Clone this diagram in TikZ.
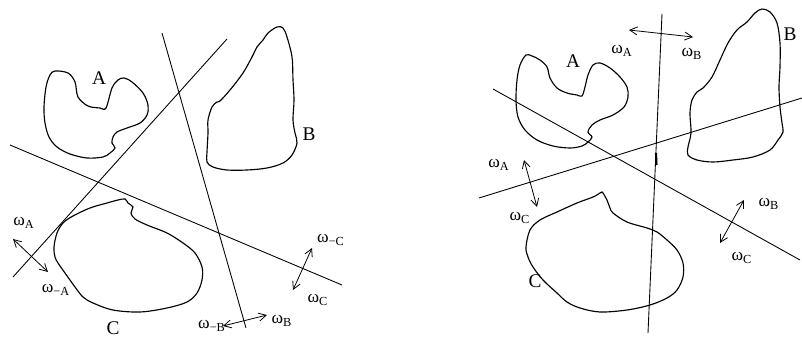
\documentclass[tikz,border=0pt]{standalone}
\usepackage{fontspec}
\setmainfont{Liberation Serif}
\usetikzlibrary{arrows.meta}
\newcommand{\om}[1]{ω\textsubscript{#1}}

\begin{document}
\begin{tikzpicture}[x=0.02cm,y=-0.02cm,
    region/.style={line width=0.65pt,smooth cycle,tension=0.55},
    cut/.style={line width=0.5pt},
    setlabel/.style={font=\fontsize{11}{13}\selectfont},
    dbl/.style={{Straight Barb[length=1.5mm,width=1.6mm]}-{Straight Barb[length=1.5mm,width=1.6mm]},line width=0.45pt}]
  \useasboundingbox (0,0) rectangle (802,338);

  % left panel: three cutting lines
  \coordinate (la1) at (13,277);  \coordinate (la2) at (227,39);
  \coordinate (lb1) at (162,33);  \coordinate (lb2) at (246,328);
  \coordinate (lc1) at (10,145);  \coordinate (lc2) at (342,285);
  \draw[cut] (la1) -- (la2);
  \draw[cut] (lb1) -- (lb2);
  \draw[cut] (lc1) -- (lc2);

  % left panel: regions
  \draw[region] plot coordinates {(55,71) (68,73) (75,82) (78,97) (88,106)
    (100,108) (106,108) (112,88) (118,80) (124,78) (132,82) (143,93) (148,105)
    (147,115) (140,123) (127,128) (117,132) (113,137) (112,143) (115,148)
    (110,153) (103,157) (87,158) (70,154) (57,147) (49,137) (45,123) (44,107)
    (46,87) (50,75)};
  \draw[region] plot coordinates {(277,27) (283,28) (287,37) (292,57) (293,80)
    (294,100) (293,120) (295,133) (297,143) (292,155) (283,163) (267,168)
    (247,170) (227,170) (213,167) (207,162) (207,152) (208,133) (208,120)
    (212,107) (217,102) (220,101) (230,90) (243,73) (252,57) (257,47) (263,40)
    (268,33)};
  \draw[region] plot coordinates {(125,199) (128,203) (133,207) (131,213)
    (135,219) (147,225) (167,233) (183,243) (195,253) (202,267) (202,280)
    (197,293) (187,302) (167,308) (140,312) (113,310) (93,303) (83,297)
    (75,287) (65,273) (58,263) (55,257) (54,247) (57,233) (63,223) (73,216)
    (90,208) (107,203) (118,200)};
  \node[setlabel] (lA) at (99,78) {A};
  \node[setlabel] (lB) at (309,134) {B};
  \node[setlabel] (lC) at (113,328) {C};

  % left panel: normals
  \coordinate (na1) at (13,239);  \coordinate (na2) at (48,272);
  \coordinate (nc1) at (293,290); \coordinate (nc2) at (312,248);
  \coordinate (nb1) at (223,326); \coordinate (nb2) at (267,315);
  \draw[dbl] (na1) -- (na2);
  \draw[dbl] (nc1) -- (nc2);
  \draw[dbl] (nb1) -- (nb2);
  \node (oA) at (24,223) {\om{A}};
  \node (omA) at (56,290) {\om{−A}};
  \node (omC) at (331,240) {\om{−C}};
  \node (oC) at (318,300) {\om{C}};
  \node (omB) at (212,326) {\om{−B}};
  \node (oB) at (282,321) {\om{B}};

  % right panel: three cutting lines
  \coordinate (ra1) at (662,14);  \coordinate (ra2) at (648,333);
  \coordinate (rb1) at (479,198); \coordinate (rb2) at (802,98);
  \coordinate (rc1) at (493,89);  \coordinate (rc2) at (800,260);
  \draw[cut] (ra1) -- (ra2);
  \draw[cut] (rb1) -- (rb2);
  \draw[cut] (rc1) -- (rc2);
  \draw[line width=1.2pt] (656,153) -- (656.5,165);

  % right panel: regions
  \draw[region] plot coordinates {(526,55) (532,56) (540,60) (547,67) (550,78)
    (557,88) (567,93) (577,95) (582,96) (585,87) (588,75) (593,65) (600,63)
    (610,68) (620,77) (627,87) (628,97) (624,107) (613,115) (600,120) (592,125)
    (588,132) (592,137) (588,142) (582,146) (570,148) (553,146) (537,140)
    (525,130) (518,117) (516,100) (517,80) (520,65)};
  \draw[region] plot coordinates {(762,9) (770,12) (777,23) (780,43) (780,67)
    (779,87) (780,107) (782,123) (783,132) (778,140) (770,150) (753,157)
    (733,160) (713,162) (697,160) (688,155) (688,147) (691,133) (690,113)
    (692,100) (697,92) (703,88) (712,77) (720,60) (728,43) (737,30) (747,22)
    (755,13)};
  \draw[region] plot coordinates {(602,192) (603,193) (607,200) (610,208)
    (613,213) (627,222) (647,228) (657,232) (667,240) (677,250) (683,263)
    (683,277) (677,290) (667,298) (650,305) (627,310) (600,312) (580,308)
    (567,302) (557,293) (543,280) (533,267) (528,257) (526,247) (530,230)
    (540,220) (557,212) (577,203) (593,197) (600,193)};
  \node[setlabel] (rA) at (573,61) {A};
  \node[setlabel] (rB) at (790,34) {B};
  \node[setlabel] (rC) at (535,281) {C};

  % right panel: normals
  \coordinate (mab1) at (629,30); \coordinate (mab2) at (693,37);
  \coordinate (mac1) at (524,160); \coordinate (mac2) at (537,207);
  \coordinate (mbc1) at (720,243); \coordinate (mbc2) at (744,200);
  \draw[dbl] (mab1) -- (mab2);
  \draw[dbl] (mac1) -- (mac2);
  \draw[dbl] (mbc1) -- (mbc2);
  \node (pA) at (622,51) {\om{A}};
  \node (pB) at (692,54) {\om{B}};
  \node (qA) at (499,165) {\om{A}};
  \node (qC) at (520,218) {\om{C}};
  \node (sB) at (769,204) {\om{B}};
  \node (sC) at (742,258) {\om{C}};
\end{tikzpicture}
\end{document}
